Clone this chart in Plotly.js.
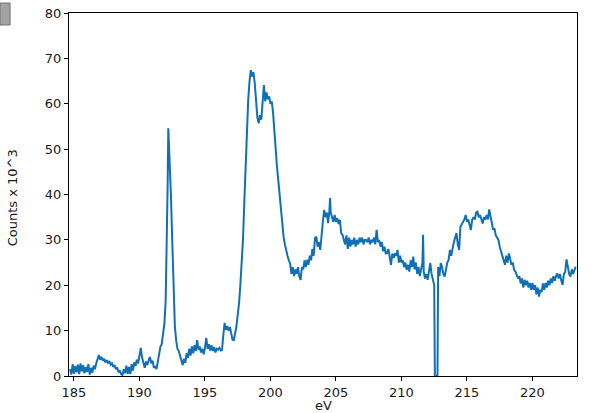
<!DOCTYPE html>
<html>
<head>
<meta charset="utf-8">
<script src="https://cdn.plot.ly/plotly-3.0.1.min.js"></script>
<style>html,body{margin:0;padding:0;background:#fff;}#chart{width:601px;height:413px;}</style>
</head>
<body>
<div id="chart"></div>
<script>
// Energy (eV)
var eV = [
184.7,184.8,184.9,185.0,185.1,185.2,185.3,185.4,185.5,185.6,185.7,185.8,185.9,186.0,186.1,186.2,186.3,186.4,186.5,186.6,
186.7,186.8,186.9,187.0,187.1,187.2,187.3,187.4,187.5,187.6,187.7,187.8,187.9,188.0,188.1,188.2,188.3,188.4,188.5,188.6,
188.7,188.8,188.9,189.0,189.1,189.2,189.3,189.4,189.5,189.6,189.7,189.8,189.9,190.0,190.1,190.2,190.3,190.4,190.5,190.6,
190.7,190.8,190.9,191.0,191.1,191.2,191.3,191.4,191.5,191.6,191.7,191.8,191.9,192.0,192.1,192.15,192.2,192.25,192.3,192.35,
192.4,192.5,192.6,192.7,192.8,192.9,193.0,193.1,193.2,193.3,193.4,193.5,193.6,193.7,193.8,193.9,194.0,194.1,194.2,194.3,
194.4,194.5,194.6,194.7,194.8,194.9,195.0,195.1,195.2,195.3,195.4,195.5,195.6,195.7,195.8,195.9,196.0,196.1,196.2,196.3,
196.4,196.5,196.6,196.7,196.8,196.9,197.0,197.1,197.2,197.3,197.4,197.5,197.6,197.7,197.8,197.9,198.0,198.1,198.2,198.3,
198.4,198.5,198.6,198.7,198.8,198.9,199.0,199.1,199.2,199.3,199.4,199.5,199.6,199.7,199.8,199.9,200.0,200.1,200.2,200.3,
200.4,200.5,200.6,200.7,200.8,200.9,201.0,201.1,201.2,201.3,201.4,201.5,201.6,201.7,201.8,201.9,202.0,202.1,202.2,202.3,
202.4,202.5,202.6,202.7,202.8,202.9,203.0,203.1,203.2,203.3,203.4,203.5,203.6,203.7,203.8,203.9,204.0,204.1,204.2,204.3,
204.4,204.5,204.55,204.6,204.7,204.8,204.9,205.0,205.1,205.2,205.3,205.4,205.5,205.6,205.7,205.8,205.9,206.0,206.1,206.2,
206.3,206.4,206.5,206.6,206.7,206.8,206.9,207.0,207.1,207.2,207.3,207.4,207.5,207.6,207.7,207.8,207.9,208.0,208.1,208.2,
208.3,208.4,208.5,208.6,208.7,208.8,208.9,209.0,209.1,209.2,209.3,209.4,209.5,209.6,209.7,209.8,209.9,210.0,210.1,210.2,
210.3,210.4,210.5,210.6,210.7,210.8,210.9,211.0,211.1,211.2,211.3,211.4,211.5,211.6,211.65,211.7,211.8,211.9,212.0,212.1,
212.2,212.3,212.4,212.5,212.55,212.75,212.8,212.9,213.0,213.1,213.2,213.3,213.4,213.5,213.6,213.7,213.8,213.9,214.0,214.1,
214.2,214.3,214.4,214.5,214.6,214.7,214.8,214.9,215.0,215.1,215.2,215.3,215.4,215.5,215.6,215.7,215.8,215.9,216.0,216.1,
216.2,216.3,216.4,216.5,216.6,216.7,216.8,216.9,217.0,217.1,217.2,217.3,217.4,217.5,217.6,217.7,217.8,217.9,218.0,218.1,
218.2,218.3,218.4,218.5,218.6,218.7,218.8,218.9,219.0,219.1,219.2,219.3,219.4,219.5,219.6,219.7,219.8,219.9,220.0,220.1,
220.2,220.3,220.4,220.5,220.6,220.7,220.8,220.9,221.0,221.1,221.2,221.3,221.4,221.5,221.6,221.7,221.8,221.9,222.0,222.1,
222.2,222.3,222.4,222.5,222.6,222.7,222.8,222.9,223.0,223.1,223.2,223.3
];
// Counts (x 10^3)
var counts = [
1.5,0.3,2.6,0.5,2.2,0.8,2.5,0.4,2.8,1.0,2.4,0.6,2.0,0.9,2.6,0.3,1.8,0.7,2.3,1.5,
2.8,3.5,4.6,3.6,4.2,3.4,3.8,3.0,3.5,2.9,3.3,2.5,2.8,2.0,2.4,1.5,1.9,0.8,1.2,0.4,
0.2,1.5,0.6,2.3,0.5,2.0,0.4,2.6,1.2,3.0,2.2,3.6,2.8,4.5,6.2,4.0,3.0,1.8,3.2,2.4,
3.5,4.2,2.8,3.4,1.8,2.2,1.5,3.0,4.5,6.5,7.0,9.5,11.5,16.5,30.0,42.0,54.6,51.0,49.0,45.0,
40.0,30.0,18.0,11.0,7.9,6.0,5.5,4.3,3.5,2.4,3.8,2.9,5.0,4.0,6.0,4.5,6.5,5.0,6.8,5.5,
7.9,5.8,6.5,5.2,6.0,4.8,6.2,8.4,6.0,7.0,5.6,6.8,5.5,6.4,5.2,6.0,5.8,6.2,5.6,5.7,
9.0,11.7,10.2,11.0,10.0,10.8,9.5,8.0,7.9,9.5,10.9,13.5,16.0,20.0,25.0,30.0,38.0,46.0,54.0,60.8,
65.0,67.4,66.0,67.0,64.5,61.0,57.0,55.7,57.5,56.5,61.0,64.1,60.5,62.5,61.0,61.6,60.0,60.5,58.0,53.5,
49.0,46.0,43.0,40.0,36.5,33.0,30.7,29.0,27.5,26.5,25.5,24.8,22.5,24.0,22.0,23.5,22.5,24.0,22.0,21.2,
24.0,23.5,25.5,24.0,25.6,24.5,26.5,25.5,28.0,26.5,30.4,30.7,28.5,29.5,27.8,31.5,34.0,36.6,35.0,36.0,
33.7,36.5,39.2,36.0,35.0,34.0,35.5,34.0,34.8,33.5,34.4,31.5,31.1,30.0,29.0,31.0,28.0,30.5,28.5,30.0,
29.0,30.5,28.5,30.0,29.0,30.5,29.5,30.5,29.0,30.0,30.0,29.5,30.5,29.0,30.0,29.5,30.5,29.0,32.2,29.5,
30.0,28.5,29.5,27.5,28.5,27.0,27.1,28.0,26.5,24.5,27.0,26.0,27.0,26.5,27.8,25.0,26.5,25.0,25.5,24.0,
25.0,23.4,24.5,23.0,25.5,24.0,26.3,23.5,25.0,22.5,24.0,22.0,23.5,25.0,31.1,23.0,21.5,22.5,21.2,23.0,
24.9,22.5,21.0,20.0,0.0,0.0,24.0,22.0,24.9,24.0,22.5,21.9,23.5,25.0,25.6,27.8,26.5,28.5,29.5,30.5,
31.5,29.0,27.8,32.9,33.5,34.0,34.5,35.5,34.0,34.5,33.0,32.2,34.5,35.0,34.5,36.0,36.2,35.0,35.5,34.5,
33.6,35.0,34.5,35.5,34.5,36.7,35.0,34.0,32.2,32.5,31.0,30.5,30.0,28.5,27.5,26.5,25.6,24.5,26.5,25.0,
27.0,25.5,24.5,25.0,23.4,23.0,22.0,21.5,22.0,20.4,21.5,19.5,21.2,20.0,21.0,19.5,20.5,19.0,20.5,19.0,
20.0,18.0,19.5,17.5,19.0,18.5,20.4,19.0,20.5,19.5,21.0,20.0,21.5,20.5,22.0,21.0,22.0,22.6,21.5,22.5,
21.0,20.1,22.5,23.0,25.7,23.5,22.5,21.9,23.5,22.5,23.5,24.1
];
var xTicks = [185,190,195,200,205,210,215,220];
var yTicks = [0,10,20,30,40,50,60,70,80];

var font = {family: '"DejaVu Sans", Verdana, sans-serif', size: 13, color: '#1a1a1a'};

var trace = {
  x: eV, y: counts, type: 'scatter', mode: 'lines',
  line: {color: '#1170b5', width: 2},
  hoverinfo: 'x+y'
};

var layout = {
  width: 601, height: 413,
  margin: {l: 69, r: 24, t: 13, b: 37, pad: 0},
  paper_bgcolor: '#ffffff', plot_bgcolor: '#ffffff',
  showlegend: false,
  font: font,
  xaxis: {
    range: [184.62, 223.4], tickvals: xTicks, ticktext: xTicks.map(String),
    ticks: 'outside', ticklen: 4, tickcolor: '#000', tickwidth: 1,
    showline: true, linecolor: '#000', linewidth: 1, mirror: true,
    showgrid: false, zeroline: false, tickfont: font, automargin: false
  },
  yaxis: {
    range: [0, 80], tickvals: yTicks, ticktext: yTicks.map(String),
    ticks: 'outside', ticklen: 4, tickcolor: '#000', tickwidth: 1,
    showline: true, linecolor: '#000', linewidth: 1, mirror: true,
    showgrid: false, zeroline: false, tickfont: font, automargin: false
  },
  annotations: [
    {text: 'Counts x 10^3', xref: 'paper', yref: 'paper', x: -0.112, y: 0.49,
     xanchor: 'center', yanchor: 'middle', textangle: -90, showarrow: false, font: font},
    {text: 'eV', xref: 'paper', yref: 'paper', x: 0.5, y: -0.08,
     xanchor: 'center', yanchor: 'middle', showarrow: false, font: font}
  ],
  shapes: [
    {type: 'rect', xref: 'paper', yref: 'paper', x0: -0.1358, x1: -0.116, y0: 0.967, y1: 1.0275,
     fillcolor: '#a3a3a3', line: {color: '#6e6e6e', width: 1}}
  ]
};

Plotly.newPlot('chart', [trace], layout, {displayModeBar: false, staticPlot: true});
</script>
</body>
</html>
